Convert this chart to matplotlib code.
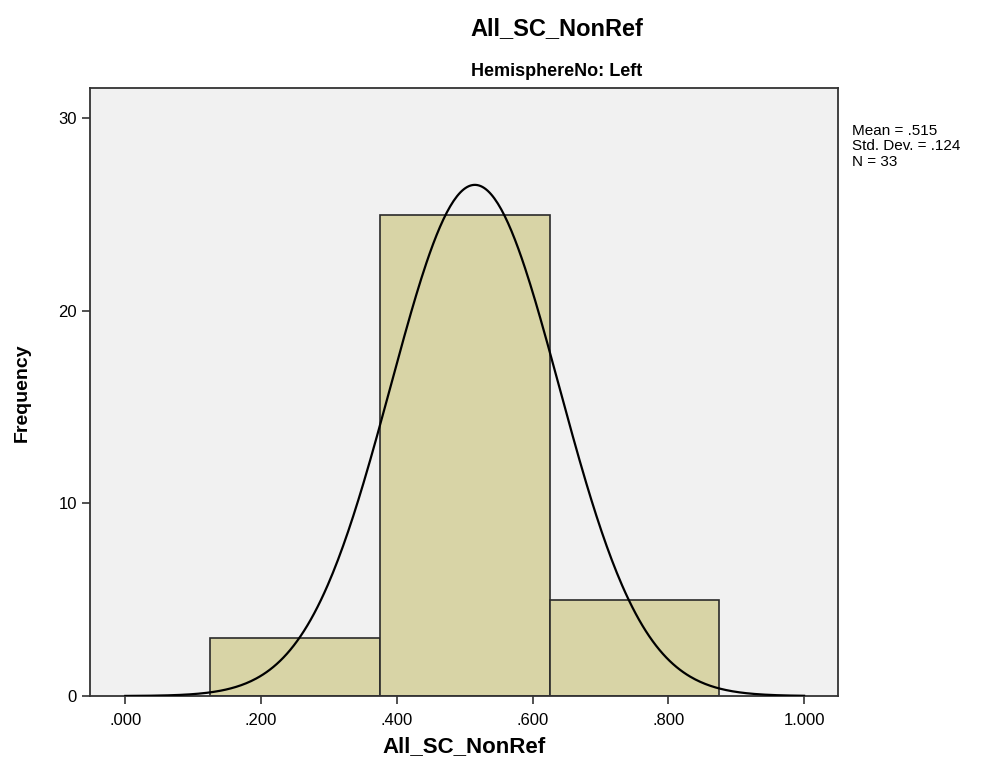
import numpy as np
import matplotlib
matplotlib.use("Agg")
import matplotlib.pyplot as plt

# 히스토그램 데이터 (구간 경계, 빈도)
BIN_EDGES = [0.125, 0.375, 0.625, 0.875]
FREQ = [3, 25, 5]

# 요약 통계
MEAN = 0.515
STD = 0.124
N = 33

X_TICKS = [0.0, 0.2, 0.4, 0.6, 0.8, 1.0]
X_TICK_LABELS = [".000", ".200", ".400", ".600", ".800", "1.000"]
Y_TICKS = [0, 10, 20, 30]

plt.rcParams['font.family'] = ['Liberation Sans', 'DejaVu Sans']

fig = plt.figure(figsize=(10, 7.73), dpi=100)
ax = fig.add_axes([0.09, 0.0996, 0.748, 0.786])
ax.set_facecolor("#f1f1f1")

widths = np.diff(BIN_EDGES)
ax.bar(BIN_EDGES[:-1], FREQ, width=widths, align="edge",
       color="#d8d4a6", edgecolor="#2a2a2a", linewidth=1.2, zorder=2)

# 정규분포 곡선
bw = widths[0]
xs = np.linspace(0.0, 1.0, 400)
ys = N * bw / (STD * np.sqrt(2 * np.pi)) * np.exp(-0.5 * ((xs - MEAN) / STD) ** 2)
ax.plot(xs, ys, color="black", linewidth=1.6, zorder=3)

ax.set_xlim(-0.052, 1.05)
ax.set_ylim(0, 31.55)
ax.set_xticks(X_TICKS)
ax.set_xticklabels(X_TICK_LABELS)
ax.set_yticks(Y_TICKS)
ax.tick_params(axis="both", direction="out", length=6, width=1.2,
               labelsize=12, color="#333333")
ax.tick_params(axis="x", pad=6)
for s in ax.spines.values():
    s.set_linewidth(1.3)
    s.set_color("#333333")

ax.set_xlabel("All_SC_NonRef", fontsize=16, fontweight="bold", labelpad=6)
ax.set_ylabel("Frequency", fontsize=14, fontweight="bold", labelpad=20)

fig.text(0.557, 0.963, "All_SC_NonRef", ha="center", va="center",
         fontsize=17, fontweight="bold")
fig.text(0.557, 0.907, "HemisphereNo: Left", ha="center", va="center",
         fontsize=13, fontweight="bold")

fig.text(0.852, 0.831, f"Mean = {MEAN:.3f}".replace("0.", "."), fontsize=11, va="center")
fig.text(0.852, 0.811, f"Std. Dev. = {STD:.3f}".replace("0.", "."), fontsize=11, va="center")
fig.text(0.852, 0.791, f"N = {N}", fontsize=11, va="center")

fig.savefig("out.png", dpi=100, facecolor="white")
